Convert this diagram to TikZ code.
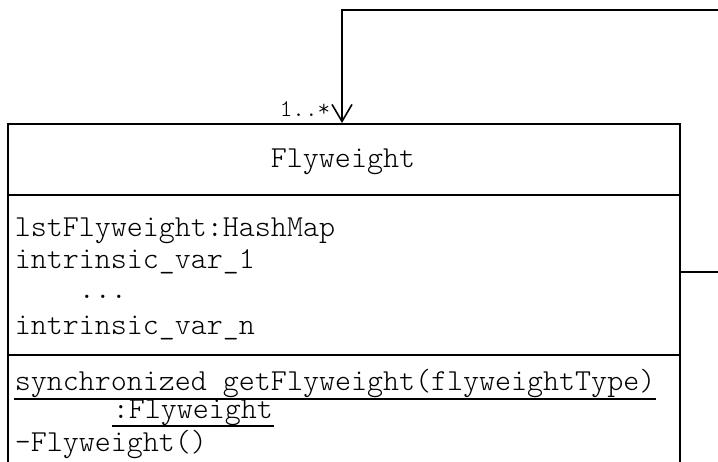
\documentclass[tikz,border=0pt]{standalone}
\usepackage{fontspec}
\setmonofont{lmmonolt10-regular.otf}
\usetikzlibrary{arrows.meta}
\begin{document}
\begin{tikzpicture}[x=1pt,y=-1pt, line width=1.6pt,
  txt/.style={font=\ttfamily\fontsize{30.5}{31}\selectfont, anchor=base west, inner sep=0pt},
  mult/.style={font=\ttfamily\fontsize{24}{24}\selectfont, anchor=base east, inner sep=0pt},
  ul/.style={line width=1.6pt},
  vhead/.style={-{Straight Barb[length=17pt,width=20pt,line width=1.6pt]}}]
\useasboundingbox (0,0) rectangle (718,462);
\clip (0,0) rectangle (718,462);
% class box (continues below the picture)
\node[draw, minimum width=672pt, minimum height=380pt, anchor=north west, inner sep=0pt] (cls) at (7,123) {};
\draw (7,195) -- (679,195);
\draw (7,355) -- (679,355);
% texts
\node[txt, anchor=base] (name) at (343,168) {Flyweight};
\node[txt] (a1) at (14,237) {lstFlyweight:HashMap};
\node[txt] (a2) at (14,269) {intrinsic\_var\_1};
\node[txt] (a3) at (14,299) {\ \ \ \ ...};
\node[txt] (a4) at (14,335) {intrinsic\_var\_n};
\node[txt] (m1) at (14,391) {synchronized getFlyweight(flyweightType)};
\node[txt] (m2) at (112,419) {:Flyweight};
\node[txt] (m3) at (14,451) {-Flyweight()};
\draw[ul] ([yshift=-8pt]m1.base west) -- ([yshift=-8pt]m1.base east);
\draw[ul] ([yshift=-7pt]m2.base west) -- ([yshift=-7pt]m2.base east);
% self association
\coordinate (from) at (679,272);
\coordinate (tip) at (342,123);
\coordinate (r1) at (740,272);
\coordinate (r2) at (740,10);
\coordinate (t1) at (342,10);
\draw[vhead] (from) -- (r1) -- (r2) -- (t1) -- (tip);
\node[mult] (mul) at (331,117) {1..*};
\end{tikzpicture}
\end{document}
